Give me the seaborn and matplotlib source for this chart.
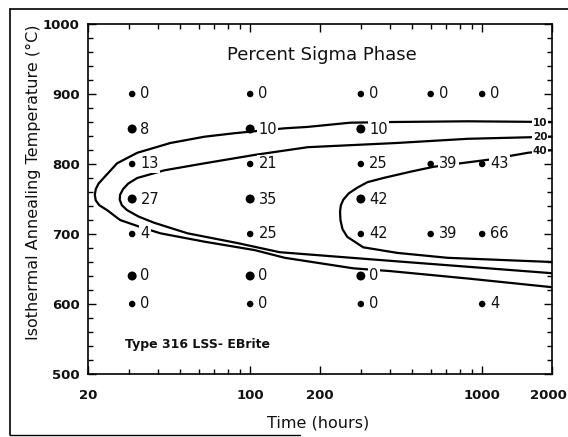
import numpy as np
import pandas as pd
import matplotlib
matplotlib.use("Agg")
import matplotlib.pyplot as plt
import seaborn as sns
from matplotlib.ticker import FixedLocator, FixedFormatter, NullFormatter
from matplotlib.lines import Line2D
from matplotlib.transforms import ScaledTranslation

# ---------------- data ----------------
time_h = [31, 31, 31, 31, 31, 31, 31,
          100, 100, 100, 100, 100, 100, 100,
          300, 300, 300, 300, 300, 300, 300,
          600, 600, 600,
          1000, 1000, 1000, 1000]
temp_c = [900, 850, 800, 750, 700, 640, 600,
          900, 850, 800, 750, 700, 640, 600,
          900, 850, 800, 750, 700, 640, 600,
          900, 800, 700,
          900, 800, 700, 600]
sigma_pct = [0, 8, 13, 27, 4, 0, 0,
             0, 10, 21, 35, 25, 0, 0,
             0, 10, 25, 42, 42, 0, 0,
             0, 39, 39,
             0, 43, 66, 4]

# contour lines
c10_t = [2000, 865, 414, 270, 177, 141, 85.7, 63.6, 45.3, 32.6, 26.7, 23.5, 22.2, 21.6,
         21.4, 21.6, 22.4, 24.2, 27.5, 33.6, 41.0, 63.6, 104.6, 141, 278, 402, 892, 2000]
c10_T = [860, 861, 860, 859, 853, 851, 844, 839, 830, 816, 801, 781, 772, 764,
         756, 748, 741, 734, 720, 710, 701, 689, 677, 666, 651, 647, 636, 624]
c20_t = [2000, 865, 427, 177, 104.6, 63.6, 42.7, 32.6, 29.8, 28.3, 27.5, 27.4, 28.0, 29.5,
         33.0, 38.6, 53.7, 88.3, 134, 427, 2000]
c20_T = [839, 836, 830, 824, 813, 801, 791, 780, 772, 764, 756, 749, 741, 734,
         725, 716, 701, 687, 674, 661, 644]
c40_t = [2000, 1574, 1057, 807, 617, 491, 375, 320, 289, 266, 252, 246, 244, 245, 250, 262, 307,
         431, 709, 2000]
c40_T = [820, 816, 806, 801, 796, 789, 780, 774, 766, 758, 749, 741, 732, 720, 707, 696, 681,
         673, 666, 660]
contour_labels = ["10", "20", "40"]
contour_label_T = [859, 838, 818]

x_ticks = [20, 100, 200, 1000, 2000]
x_tick_labels = ["20", "100", "200", "1000", "2000"]
y_ticks = [500, 600, 700, 800, 900, 1000]

# ---------------- style ----------------
sns.set_theme(style="ticks")
plt.rcParams['font.family'] = ['DejaVu Sans']
big_rows = {850, 750, 640}

fig = plt.figure(figsize=(5.68, 4.37), dpi=100)
ax = fig.add_axes([88/568, 1-374/437, 464/568, 350/437])
ax.set_xscale('log')

for ct, cT in [(c10_t, c10_T), (c20_t, c20_T), (c40_t, c40_T)]:
    sns.lineplot(x=ct, y=cT, sort=False, estimator=None, color='black',
                 lw=1.6, ax=ax, zorder=2)

df = pd.DataFrame({"t": time_h, "T": temp_c, "v": sigma_pct})
df["dot"] = ["big" if T in big_rows else "small" for T in df["T"]]
sns.scatterplot(data=df, x="t", y="T", size="dot", sizes={"big": 42, "small": 22},
                color="black", edgecolor="none", legend=False, ax=ax, zorder=5)

for t, T, v in zip(time_h, temp_c, sigma_pct):
    ax.annotate(str(v), (t, T), xytext=(6, 0), textcoords='offset points',
                ha='left', va='center', fontsize=10.5, color='#111111',
                bbox=dict(boxstyle='square,pad=0.08', fc='white', ec='none'),
                zorder=4)

for lab, T in zip(contour_labels, contour_label_T):
    ax.text(1780, T, lab, ha='center', va='center', fontsize=7.5,
            fontweight='bold', color='#111111',
            bbox=dict(boxstyle='square,pad=0.05', fc='white', ec='none'), zorder=4)

ax.set_xlim(20, 2000)
ax.set_ylim(500, 1000)

ax.xaxis.set_major_locator(FixedLocator(x_ticks))
ax.xaxis.set_major_formatter(FixedFormatter(x_tick_labels))
minor_x = [30, 40, 50, 60, 70, 80, 90, 300, 400, 500, 600, 700, 800, 900]
ax.xaxis.set_minor_locator(FixedLocator(minor_x))
ax.xaxis.set_minor_formatter(NullFormatter())
ax.yaxis.set_major_locator(FixedLocator(y_ticks))
ax.yaxis.set_minor_locator(FixedLocator(list(range(520, 1000, 20))))

ax.tick_params(which='both', direction='in', top=True, right=True,
               colors='black', width=1.0)
ax.tick_params(which='major', length=6)
ax.tick_params(which='minor', length=3.5)
ax.tick_params(axis='x', which='major', pad=11)
ax.tick_params(axis='y', which='major', pad=6)
for lab in ax.get_xticklabels() + ax.get_yticklabels():
    lab.set_fontsize(9.5)
    lab.set_fontweight('bold')
    lab.set_color('#111111')
last = ax.get_xticklabels()[-1]
last.set_transform(last.get_transform() + ScaledTranslation(-4/100, 0, fig.dpi_scale_trans))

for sp in ax.spines.values():
    sp.set_color('black')
    sp.set_linewidth(1.2)

ax.set_xlabel("Time (hours)", fontsize=11.5, color='#111111')
ax.xaxis.label.set_va('center')
ax.xaxis.set_label_coords(0.496, -0.14)
ax.set_ylabel("Isothermal Annealing Temperature (°C)", fontsize=11.5, color='#111111')
ax.yaxis.label.set_va('center')
ax.yaxis.set_label_coords(-0.1185, 0.549)

ax.text(0.505, 0.91, "Percent Sigma Phase", transform=ax.transAxes,
        ha='center', va='center', fontsize=13, color='#111111')
ax.text(0.08, 0.083, "Type 316 LSS- EBrite", transform=ax.transAxes,
        ha='left', va='center', fontsize=9, fontweight='bold', color='#111111')

# outer frame of the scanned figure
W, H = 568, 437
fig.add_artist(Line2D([10/W, 10/W], [1-9/H, 1-435/H], transform=fig.transFigure,
                      color='black', lw=1.2))
fig.add_artist(Line2D([10/W, 1.0], [1-9/H, 1-9/H], transform=fig.transFigure,
                      color='black', lw=1.2))
fig.add_artist(Line2D([10/W, 300/W], [1-435/H, 1-435/H], transform=fig.transFigure,
                      color='black', lw=1.0))

fig.savefig("out.png", dpi=100)
